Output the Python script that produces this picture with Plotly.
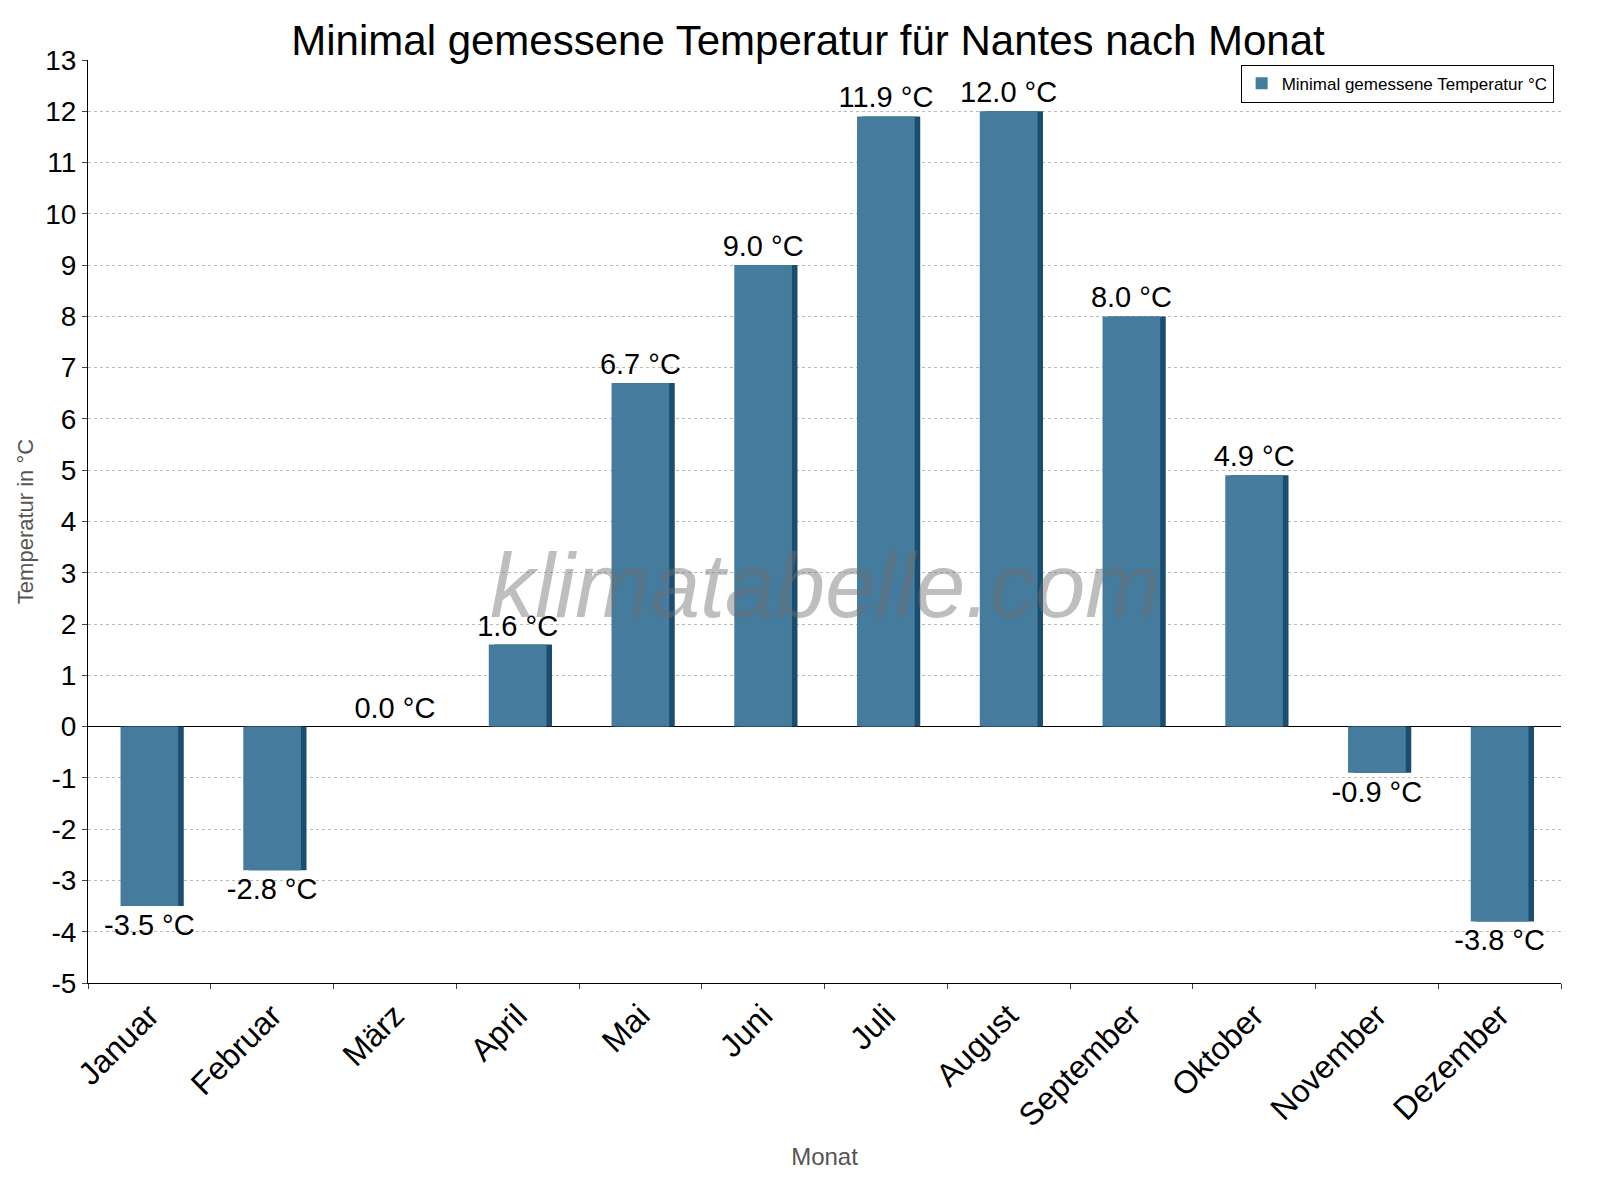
import plotly.graph_objects as go

months = ["Januar","Februar","März","April","Mai","Juni","Juli","August","September","Oktober","November","Dezember"]
values = [-3.5,-2.8,0.0,1.6,6.7,9.0,11.9,12.0,8.0,4.9,-0.9,-3.8]
labels = [f"{v:.1f} °C" for v in values]
yticks = list(range(-5, 14))
yticktext = [str(t) if t >= 0 else "-" + str(-t) for t in yticks]

fig = go.Figure()
fig.add_bar(x=months, y=values, width=0.47, offset=-0.19, marker=dict(color="#1b4e6e", line=dict(width=0)),
            showlegend=False, hoverinfo="skip")
fig.add_bar(x=months, y=values, width=0.47, offset=-0.235, marker=dict(color="#457b9d", line=dict(width=0)),
            text=labels, textposition="outside", textfont=dict(size=29, color="black"),
            constraintext="none", cliponaxis=False, name="Minimal gemessene Temperatur °C")
fig.update_layout(
    barmode="overlay", width=1600, height=1200, plot_bgcolor="white", paper_bgcolor="white",
    font=dict(family="Liberation Sans, Arial", color="black"),
    title=dict(text="Minimal gemessene Temperatur für Nantes nach Monat", x=0.5, y=0.985, xanchor="center",
               font=dict(size=42)),
    margin=dict(l=80, r=47, t=52, b=225),
    legend=dict(x=0.995, y=0.995, xanchor="right", yanchor="top", bordercolor="black", borderwidth=1,
                font=dict(size=17), itemwidth=30),
    xaxis=dict(tickangle=-45, tickfont=dict(size=32), ticks="outside", tickson="boundaries", showline=True,
               linecolor="black", title=dict(text="Monat", font=dict(size=24, color="#555")), automargin=False),
    yaxis=dict(range=[-5,13], tickvals=yticks, ticktext=yticktext, tickfont=dict(size=28), ticks="outside",
               showline=True, linecolor="black",
               gridcolor="#bbb", griddash="dot", zeroline=True, zerolinecolor="black", zerolinewidth=1,
               title=dict(text="Temperatur in °C", font=dict(size=22, color="#555"), standoff=5), automargin=False),
    annotations=[dict(text="<i>klimatabelle.com</i>", x=0.5, y=0.43, xref="paper", yref="paper", showarrow=False,
                      font=dict(size=90, color="rgba(110,110,110,0.45)", family="Liberation Sans"))],
)
fig.write_html("out.html")
